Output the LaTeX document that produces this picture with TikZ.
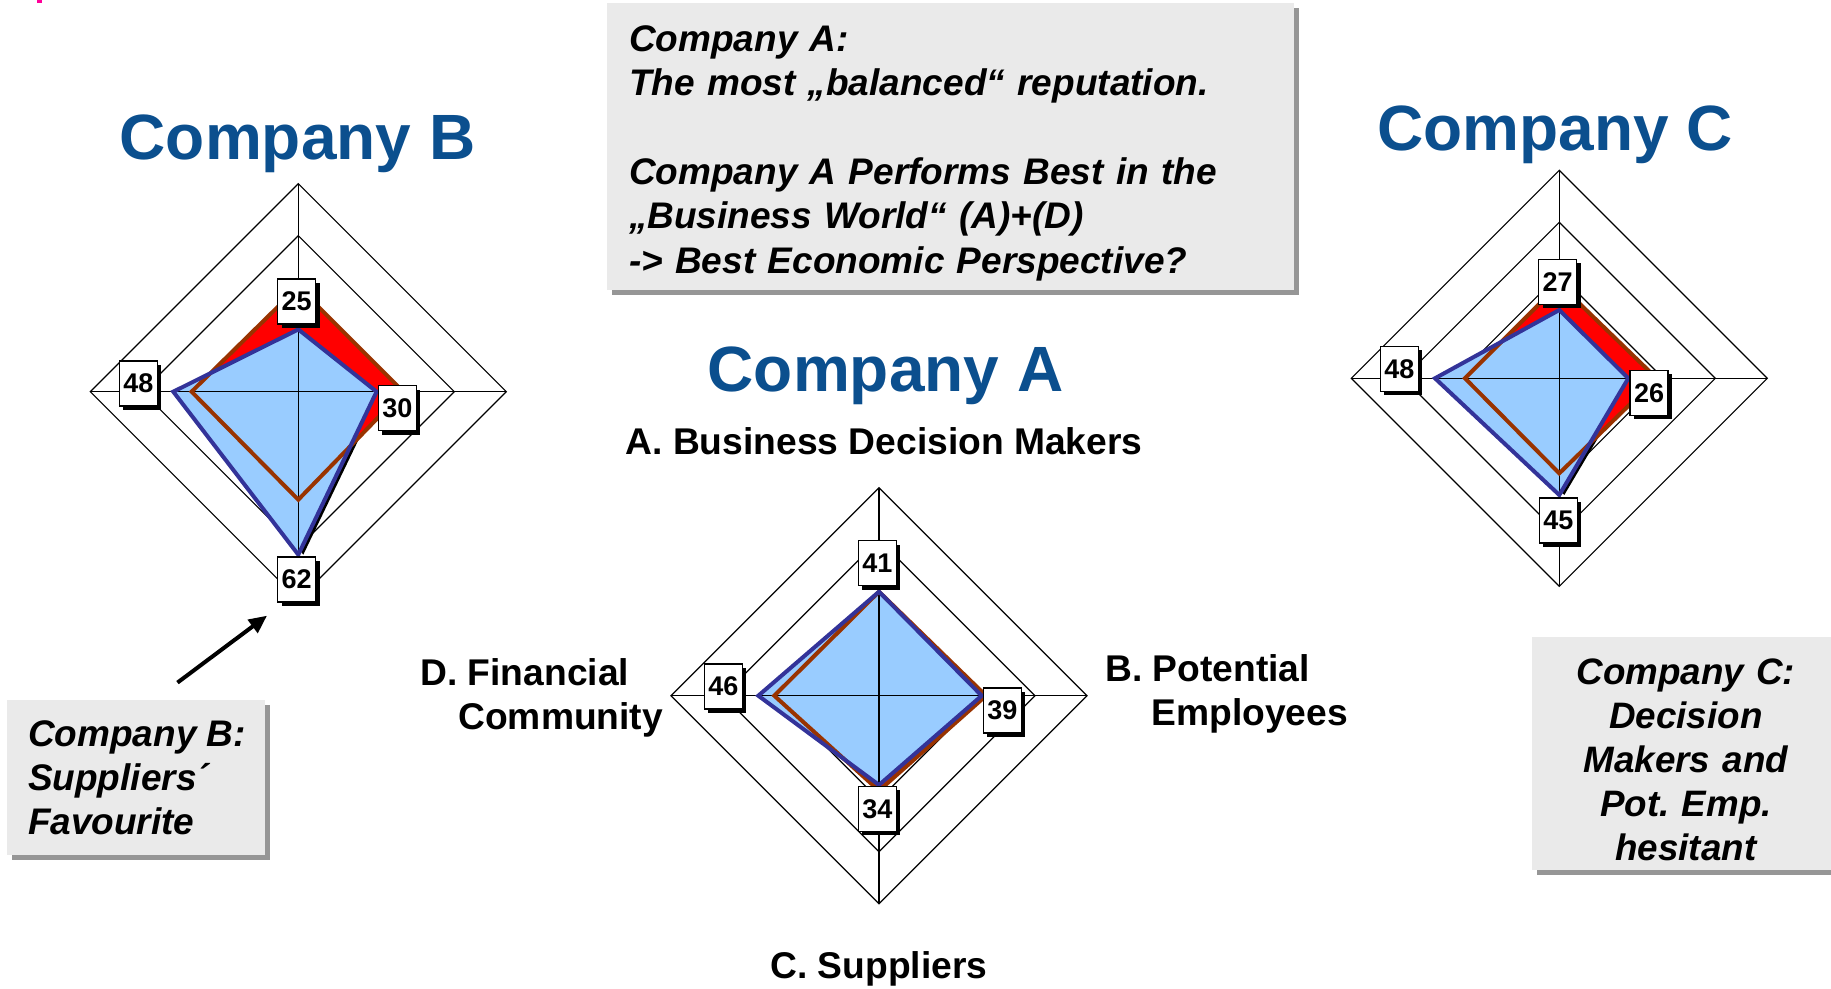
\documentclass[tikz,border=0pt]{standalone}
\usepackage{fontspec}
\setmainfont{Liberation Sans}
\usetikzlibrary{calc,shadows,arrows.meta}

\definecolor{titleblue}{RGB}{11,79,142}
\definecolor{benchred}{RGB}{255,0,0}
\definecolor{benchbrown}{RGB}{153,51,0}
\definecolor{scorefill}{RGB}{153,204,255}
\definecolor{scoreline}{RGB}{51,51,153}
\definecolor{notegray}{RGB}{234,234,234}
\definecolor{noteshade}{RGB}{150,150,150}
\definecolor{markpink}{RGB}{255,0,153}

\frenchspacing

\begin{document}
\begin{tikzpicture}[
        x=0.5pt, y=-0.5pt,
        gridline/.style={draw=black, line width=0.6pt},
        axisline/.style={draw=black, line width=0.6pt},
        benchfill/.style={fill=benchred},
        benchline/.style={draw=benchbrown, line width=2pt},
        scorearea/.style={fill=scorefill},
        scoreedge/.style={draw=scoreline, line width=2pt},
        scoreshade/.style={fill=black},
        valbox/.style={draw=black, fill=white, line width=0.7pt, minimum width=19pt, minimum height=22.5pt, inner sep=0pt,
            font=\fontsize{13.5}{16}\selectfont\bfseries,
            drop shadow={shadow xshift=2pt, shadow yshift=-2pt, fill=black, opacity=1}},
        title/.style={font=\fontsize{32}{38}\selectfont\bfseries, text=titleblue, anchor=base},
        axislabel/.style={font=\fontsize{18.6}{22}\selectfont\bfseries, inner sep=0pt},
        notebox/.style={fill=notegray, inner ysep=0pt,
            drop shadow={shadow xshift=2.5pt, shadow yshift=-2.5pt, fill=noteshade, opacity=1}},
        pointer/.style={-{Triangle[length=9pt,width=8pt]}, line width=2pt}
    ]
    \useasboundingbox (0,0) rectangle (1831,989);

    \fill[markpink] (37,0) rectangle (42,3);

    % Company B
    \begin{scope}[shift={(298.3,391.7)}]
        \foreach \r in {104,156,208}
            \draw[gridline] (0,-\r) -- (\r,0) -- (0,\r) -- (-\r,0) -- cycle;
        \fill[scoreshade, shift={(5,0)}] (0,-62.3) -- (78.3,0) -- (0,163) -- (-125,0) -- cycle;
        \fill[benchfill] (0,-105) -- (105,0) -- (0,108) -- (-106.7,0) -- cycle;
        \fill[scorearea] (0,-62.3) -- (78.3,0) -- (0,163) -- (-125,0) -- cycle;
        \draw[axisline] (0,-208) -- (0,208) (-208,0) -- (208,0);
        \draw[benchline] (0,-105) -- (105,0) -- (0,108) -- (-106.7,0) -- cycle;
        \draw[scoreedge] (0,-62.3) -- (78.3,0) -- (0,163) -- (-125,0) -- cycle;
    \end{scope}

    % Company A
    \begin{scope}[shift={(879,695.7)}]
        \foreach \r in {104,156,208}
            \draw[gridline] (0,-\r) -- (\r,0) -- (0,\r) -- (-\r,0) -- cycle;
        \fill[benchfill] (0,-104) -- (107,0) -- (0,95) -- (-104.7,0) -- cycle;
        \fill[scorearea] (0,-104) -- (102.7,0) -- (0,89.3) -- (-120.7,0) -- cycle;
        \draw[axisline] (0,-208) -- (0,208) (-208,0) -- (208,0);
        \draw[benchline] (0,-104) -- (107,0) -- (0,95) -- (-104.7,0) -- cycle;
        \draw[scoreedge] (0,-104) -- (102.7,0) -- (0,89.3) -- (-120.7,0) -- cycle;
    \end{scope}

    % Company C
    \begin{scope}[shift={(1559.3,378.3)}]
        \foreach \r in {104,156,208}
            \draw[gridline] (0,-\r) -- (\r,0) -- (0,\r) -- (-\r,0) -- cycle;
        \fill[scoreshade, shift={(5,0)}] (0,-68.3) -- (69,0) -- (0,116.7) -- (-124.3,0) -- cycle;
        \fill[benchfill] (0,-94.3) -- (97.3,0) -- (0,95) -- (-94.3,0) -- cycle;
        \fill[scorearea] (0,-68.3) -- (69,0) -- (0,116.7) -- (-124.3,0) -- cycle;
        \draw[axisline] (0,-208) -- (0,208) (-208,0) -- (208,0);
        \draw[benchline] (0,-94.3) -- (97.3,0) -- (0,95) -- (-94.3,0) -- cycle;
        \draw[scoreedge] (0,-68.3) -- (69,0) -- (0,116.7) -- (-124.3,0) -- cycle;
    \end{scope}

    % Values
    \node[valbox] (bA) at (296.7,301.7) {25};
    \node[valbox] (bB) at (397.3,408.3) {30};
    \node[valbox] (bC) at (296.7,579.5) {62};
    \node[valbox] (bD) at (138.3,383.7) {48};
    \node[valbox] (aA) at (877.3,563) {41};
    \node[valbox] (aB) at (1002.3,710.3) {39};
    \node[valbox] (aC) at (877.3,808.8) {34};
    \node[valbox] (aD) at (723.3,686.3) {46};
    \node[valbox] (cA) at (1557.7,281.8) {27};
    \node[valbox] (cB) at (1649,393) {26};
    \node[valbox] (cC) at (1558.3,520.3) {45};
    \node[valbox] (cD) at (1399.3,368.8) {48};

    % Titles
    \node[title] (titleB) at (297.5,160) {Company B};
    \node[title] (titleA) at (885.5,391.7) {Company A};
    \node[title] (titleC) at (1555,150.6) {Company C};

    % Axis labels
    \node[axislabel, anchor=base] (labA) at (884,454.5) {A. Business Decision Makers};
    \node[axislabel, anchor=base] (labC) at (879,978.5) {C. Suppliers};
    \node[axislabel, anchor=north west, align=left] (labD) at (420,658)
        {D. Financial\\\hspace*{19pt}Community};
    \node[axislabel, anchor=north west, align=left] (labB) at (1105,654)
        {B. Potential\\\hspace*{23pt}Employees};

    % Notes
    \node[notebox, minimum width=343.5pt, minimum height=143.4pt, inner xsep=11pt, text width=321.5pt, align=left,
        font=\fontsize{18.5}{22.2}\selectfont\bfseries\itshape] (noteA) at (950.5,146.7)
        {\rule{0pt}{19.3pt}Company A:\\The most „balanced“ reputation.\\~\\Company A Performs Best in the\\„Business World“ (A)+(D)\\-> Best Economic Perspective?};
    \node[notebox, minimum width=129pt, minimum height=77.5pt] (noteB) at (136,777.5) {};
    \node[anchor=west, inner sep=0pt, align=left,
        font=\fontsize{18.5}{22}\selectfont\bfseries\itshape] (noteBtext) at ($(noteB.west)+(21,0)$)
        {Company B:\\Suppliers´\\Favourite};
    \node[notebox, minimum width=154pt, minimum height=116.7pt, inner xsep=5pt, text width=144pt, align=center,
        font=\fontsize{18.4}{22}\selectfont\bfseries\itshape] (noteC) at (1685.85,753.3)
        {\rule{0pt}{19pt}Company C:\\Decision\\Makers and\\Pot. Emp.\\hesitant};

    \draw[pointer] ($(noteB.north)+(41.5,-17)$) -- ($(bC.south west)+(-10,13)$);

\end{tikzpicture}
\end{document}
